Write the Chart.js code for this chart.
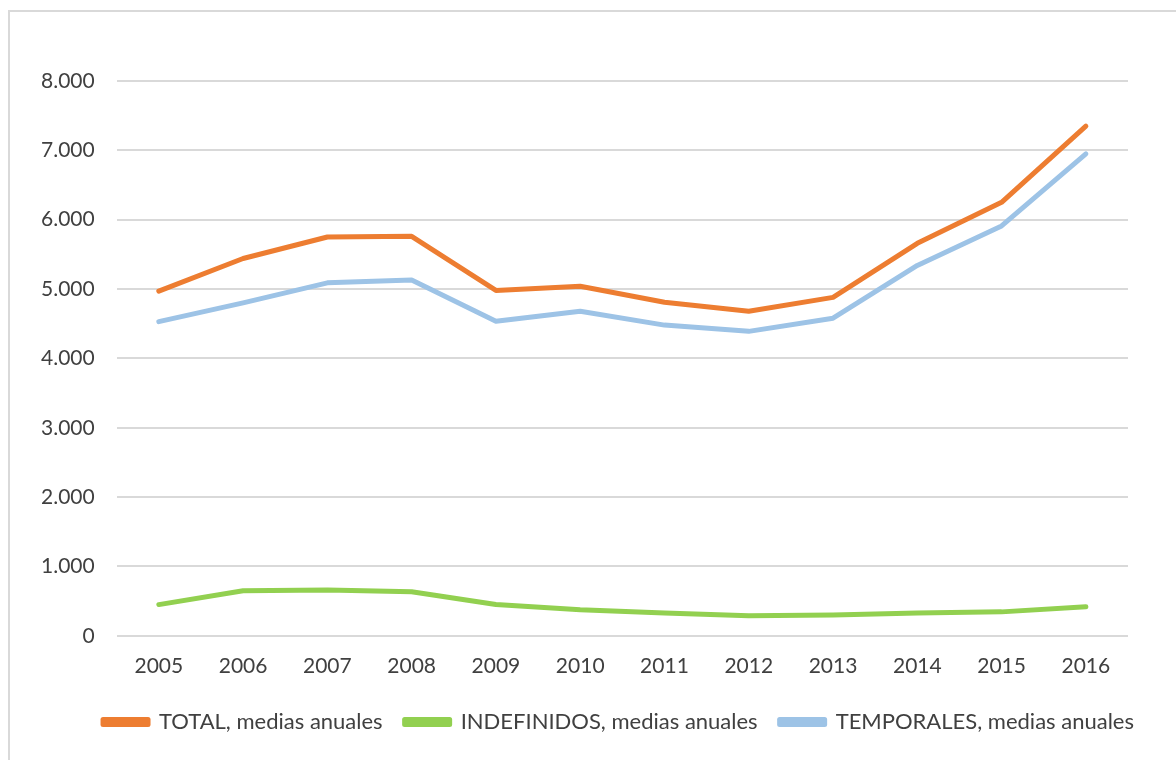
<!DOCTYPE html>
<html>
<head>
<meta charset="utf-8">
<script src="https://cdn.jsdelivr.net/npm/chart.js@4"></script>
<style>
  body { margin: 0; background: #fff; }
  #frame { position: absolute; left: 8px; top: 10px; width: 1180px; height: 760px; border: 2px solid #d9d9d9; box-sizing: border-box; }
  #wrap { position: absolute; left: 0; top: 0; width: 1176px; height: 760px; }
</style>
</head>
<body>
<div id="frame"></div>
<div id="wrap"><canvas id="myChart"></canvas></div>
<script>
const years = ['2005', '2006', '2007', '2008', '2009', '2010', '2011', '2012', '2013', '2014', '2015', '2016'];
const total = [4970, 5440, 5750, 5760, 4980, 5040, 4810, 4680, 4880, 5660, 6250, 7350];
const indefinidos = [450, 650, 660, 635, 450, 375, 330, 290, 300, 330, 345, 420];
const temporales = [4530, 4800, 5090, 5130, 4535, 4680, 4480, 4390, 4580, 5340, 5910, 6950];

Chart.defaults.font.family = 'Lato, "Open Sans", sans-serif';
Chart.defaults.color = '#404040';

// the legend in the original sits a little right of centre
const shiftLegend = {
  id: 'shiftLegend',
  afterLayout(chart) {
    chart.legend.left += 45;
    chart.legend.right += 45;
  },
};

const ctx = document.getElementById('myChart').getContext('2d');
const myChart = new Chart(ctx, {
  type: 'line',
  data: {
    labels: years,
    datasets: [
      {
        label: 'TOTAL, medias anuales',
        data: total,
        borderColor: '#ED7D31',
        backgroundColor: '#ED7D31',
      },
      {
        label: 'INDEFINIDOS, medias anuales',
        data: indefinidos,
        borderColor: '#92D050',
        backgroundColor: '#92D050',
      },
      {
        label: 'TEMPORALES, medias anuales',
        data: temporales,
        borderColor: '#9DC3E6',
        backgroundColor: '#9DC3E6',
      },
    ],
  },
  plugins: [shiftLegend],
  options: {
    responsive: true,
    maintainAspectRatio: false,
    animation: false,
    layout: { padding: { left: 19, right: 48, top: 81, bottom: 17 } },
    elements: {
      line: { borderWidth: 5, tension: 0, borderCapStyle: 'round', borderJoinStyle: 'round' },
      point: { radius: 0 },
    },
    plugins: {
      tooltip: { enabled: false },
      legend: {
        position: 'bottom',
        labels: {
          font: { size: 22 },
          boxWidth: 45,
          boxHeight: 5,
          padding: 22,
        },
      },
    },
    scales: {
      x: {
        offset: true,
        grid: { display: false },
        border: { display: false },
        ticks: { font: { size: 21 }, padding: 10 },
      },
      y: {
        min: 0,
        max: 8000,
        ticks: {
          stepSize: 1000,
          font: { size: 21 },
          padding: 22,
          callback: v => v === 0 ? '0' : String(v).replace(/\B(?=(\d{3})+(?!\d))/g, '.'),
        },
        grid: { color: '#d9d9d9', lineWidth: 2, drawTicks: false },
        border: { display: false },
      },
    },
  },
});
</script>
</body>
</html>
